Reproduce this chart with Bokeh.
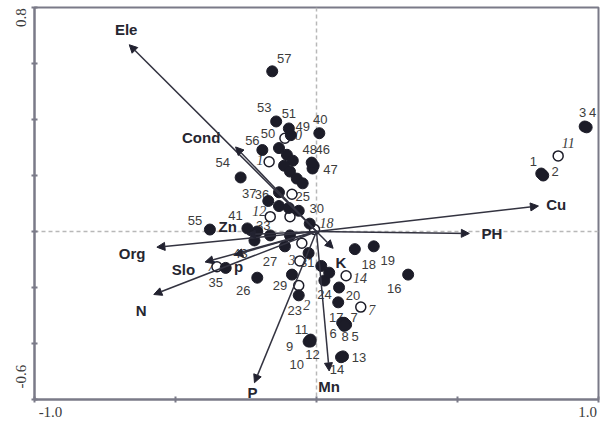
import math
from bokeh.plotting import figure
from bokeh.models import Arrow, NormalHead, Span, FixedTicker, Range1d, ColumnDataSource, LinearAxis
from bokeh.core.properties import value
from bokeh.embed import file_html
from bokeh.resources import INLINE

# ---------------- data ----------------
# filled sites
filled_ids = ["1", "2", "3", "4", "5", "6", "7", "8", "9", "10", "11", "12", "13", "14",
              "16", "17", "18", "19", "20", "23", "24", "25", "26", "27", "29", "30", "31",
              "33", "35", "36", "37", "40", "41", "43", "46", "47", "48", "49", "50", "51",
              "53", "54", "55", "56", "57",
              "15", "21", "22", "28", "32", "34", "38", "39", "42", "44", "45", "52"]
filled_x = [0.797, 0.804, 0.951, 0.958, 0.105, 0.091, 0.098, 0.098, -0.028, -0.024, -0.021, -0.021, 0.094, 0.087,
            0.325, 0.077, 0.136, 0.203, 0.080, -0.063, 0.028, -0.063, -0.210, -0.112, -0.087, -0.024, 0.017,
            -0.210, -0.322, -0.133, -0.171, 0.010, -0.245, -0.220, -0.010, -0.014, -0.017, -0.091, -0.133, -0.098,
            -0.143, -0.269, -0.378, -0.192, -0.157,
            0.045, -0.028, -0.094, -0.164, -0.105, -0.084, -0.115, -0.094, -0.070, -0.049, -0.133, -0.098]
filled_y = [0.207, 0.200, 0.375, 0.372, -0.333, -0.326, -0.326, -0.337, -0.393, -0.389, -0.386, -0.393, -0.446, -0.449,
            -0.154, -0.253, -0.063, -0.053, -0.200, -0.228, -0.175, 0.074, -0.165, -0.053, -0.154, 0.028, -0.123,
            0.000, -0.130, 0.091, 0.109, 0.351, 0.011, -0.032, 0.235, 0.225, 0.246, 0.344, 0.298, 0.368,
            0.393, 0.193, 0.007, 0.291, 0.572,
            -0.147, -0.077, -0.014, -0.014, 0.274, 0.253, 0.235, 0.214, 0.189, 0.172, 0.140, 0.084]
# label placement relative to the point (screen px); None = label hidden in the cluster
filled_ldx = [-8, 12, -2, 6, 9, -9, 10, 1, -19, -13, -9, 2, 16, -4,
              -14, -2, 14, 14, 14, -4, 0, 4, -14, -15, -12, 7, -14,
              6, -10, -17, -19, 1, -12, -14, 9, 18, -2, 12, -11, 0,
              -12, -18, -15, -10, 12,
              None, None, None, None, None, None, None, None, None, None, None, None]
filled_ldy = [-12, -4, -14, -15, 12, 11, -5, 11, 5, 24, -10, 13, 1, 12,
              14, 15, 15, 14, 8, 15, 14, -14, 13, 15, 11, -15, -3,
              -6, 15, -12, -7, -14, -13, 13, -16, 1, -13, -9, -15, -15,
              -14, -15, -9, -10, -13,
              None, None, None, None, None, None, None, None, None, None, None, None]

# open sites (italic labels)
open_ids = ["11", "14", "7", "2", "3", "12", "18", "1", "10", "7", "9", "5", "8"]
open_x = [0.857, 0.105, 0.157, -0.063, -0.059, -0.164, -0.007, -0.168, -0.112, -0.353, -0.094, -0.052, -0.087]
open_y = [0.270, -0.158, -0.270, -0.193, -0.105, 0.053, 0.007, 0.249, 0.333, -0.126, 0.053, -0.042, 0.133]
open_ldx = [10, 14, 11, 8, -8, -11, 12, -9, 10, -6, None, None, None]
open_ldy = [-13, 2, 3, 19, -1, -6, -7, -2, -3, -1, None, None, None]

# environmental variables (arrow tips and label positions)
env_names = ["Ele", "Cond", "Cu", "PH", "Org", "Slo", "N", "P", "Mn", "K", "Zn", "p"]
env_x = [-0.664, -0.287, 0.787, 0.542, -0.566, -0.395, -0.577, -0.220, 0.045, 0.059, -0.245, -0.290]
env_y = [0.667, 0.302, 0.091, -0.007, -0.056, -0.109, -0.225, -0.540, -0.498, -0.060, -0.011, -0.084]
env_label_x = [-0.675, -0.409, 0.850, 0.622, -0.654, -0.472, -0.622, -0.227, 0.045, 0.087, -0.315, -0.276]
env_label_y = [0.723, 0.337, 0.098, -0.007, -0.077, -0.137, -0.281, -0.575, -0.554, -0.109, 0.018, -0.125]

x_tick_values = [-1.0, -0.5, 0.0, 0.5, 1.0]
y_tick_values = [-0.6, -0.4, -0.2, 0.0, 0.2, 0.4, 0.6, 0.8]
x_tick_labels = ["-1.0", "1.0"]
y_tick_labels = ["0.8", "-0.6"]

# ---------------- layout ----------------
W, H = 600, 423
ML, MR, MT, MB = 34, 2, 7, 24
X0, X1, Y0, Y1 = -1.0, 1.0, -0.6, 0.8
XS = (W - ML - MR) / (X1 - X0)
YS = (H - MT - MB) / (Y1 - Y0)
# where the end labels sit (they hug the inside of the axis ends)
x_label_pos = [X0 + 16 / XS, X1 - 11 / XS]
y_label_pos = [Y1 - 10 / YS, Y0 + 23 / YS]

AXIS_COLOR = "#7a7a88"
DARK = "#1c1c28"
TICK_FONT = "Liberation Serif"

p = figure(width=W, height=H, x_range=Range1d(X0, X1), y_range=Range1d(Y0, Y1),
           output_backend="svg", toolbar_location=None,
           min_border_left=ML, min_border_right=MR, min_border_top=MT, min_border_bottom=MB)
p.grid.visible = False
p.background_fill_color = "white"
p.border_fill_color = "white"
p.outline_line_color = AXIS_COLOR
p.outline_line_width = 2

# axes carrying the tick marks
for ax, ticks in ((p.xaxis[0], x_tick_values), (p.yaxis[0], y_tick_values)):
    ax.ticker = FixedTicker(ticks=ticks)
    ax.major_label_overrides = {t: "" for t in ticks}
    ax.minor_tick_line_color = None
    ax.major_tick_in = 3
    ax.major_tick_out = 3
    ax.major_tick_line_color = AXIS_COLOR
    ax.major_tick_line_width = 2
    ax.axis_line_color = AXIS_COLOR
    ax.axis_line_width = 2
    ax.major_label_standoff = 0

# axes carrying the two end labels
xlab_axis = LinearAxis(ticker=FixedTicker(ticks=x_label_pos),
                       major_label_overrides=dict(zip(x_label_pos, x_tick_labels)),
                       axis_line_color=None, major_tick_line_color=None, minor_tick_line_color=None,
                       major_tick_in=0, major_tick_out=0, major_label_standoff=4,
                       major_label_text_font=TICK_FONT, major_label_text_font_size="15px",
                       major_label_text_color="#3a3a3a")
p.add_layout(xlab_axis, "below")
ylab_axis = LinearAxis(ticker=FixedTicker(ticks=y_label_pos),
                       major_label_overrides=dict(zip(y_label_pos, y_tick_labels)),
                       axis_line_color=None, major_tick_line_color=None, minor_tick_line_color=None,
                       major_tick_in=0, major_tick_out=0, major_label_standoff=6,
                       major_label_orientation="vertical",
                       major_label_text_font=TICK_FONT, major_label_text_font_size="15px",
                       major_label_text_color="#3a3a3a")
p.add_layout(ylab_axis, "left")

# zero lines
for dim in ("height", "width"):
    p.add_layout(Span(location=0, dimension=dim, line_color="#b8b8b8",
                      line_dash="4 3", line_width=1.5, level="underlay"))

# site labels
def label_positions(xs, ys, ids, ldx, ldy):
    lx, ly, lt = [], [], []
    for xv, yv, t, dx, dy in zip(xs, ys, ids, ldx, ldy):
        if dx is None:
            continue
        lx.append(xv + dx / XS)
        ly.append(yv - dy / YS)
        lt.append(t)
    return lx, ly, lt

flx, fly, flt = label_positions(filled_x, filled_y, filled_ids, filled_ldx, filled_ldy)
p.text(x=flx, y=fly, text=flt, text_align="center", text_baseline="middle",
       text_font=value("Liberation Sans"), text_font_size="13px", text_color="#3c3c3c")
olx, oly, olt = label_positions(open_x, open_y, open_ids, open_ldx, open_ldy)
p.text(x=olx, y=oly, text=olt, text_align="center", text_baseline="middle",
       text_font=value("Liberation Serif"), text_font_style="italic",
       text_font_size="14px", text_color="#3c3c3c")

# markers
p.scatter(x=open_x, y=open_y, size=10, marker="circle", fill_color="white",
          line_color=DARK, line_width=1.5)
p.scatter(x=filled_x, y=filled_y, size=11, marker="circle", fill_color=DARK,
          line_color=DARK, line_width=1)

# arrows
src = ColumnDataSource(dict(x0=[0.0] * len(env_x), y0=[0.0] * len(env_y), x1=env_x, y1=env_y))
p.add_layout(Arrow(source=src, x_start="x0", y_start="y0", x_end="x1", y_end="y1",
                   line_color="#333340", line_width=1.5,
                   end=NormalHead(size=8, fill_color="#222230", line_color="#222230", line_width=1)))
p.text(x=env_label_x, y=env_label_y, text=env_names, text_align="center", text_baseline="middle",
       text_font=value("Liberation Sans"), text_font_style="bold", text_font_size="15px",
       text_color="#262630")

open("out.html", "w").write(file_html(p, INLINE))
